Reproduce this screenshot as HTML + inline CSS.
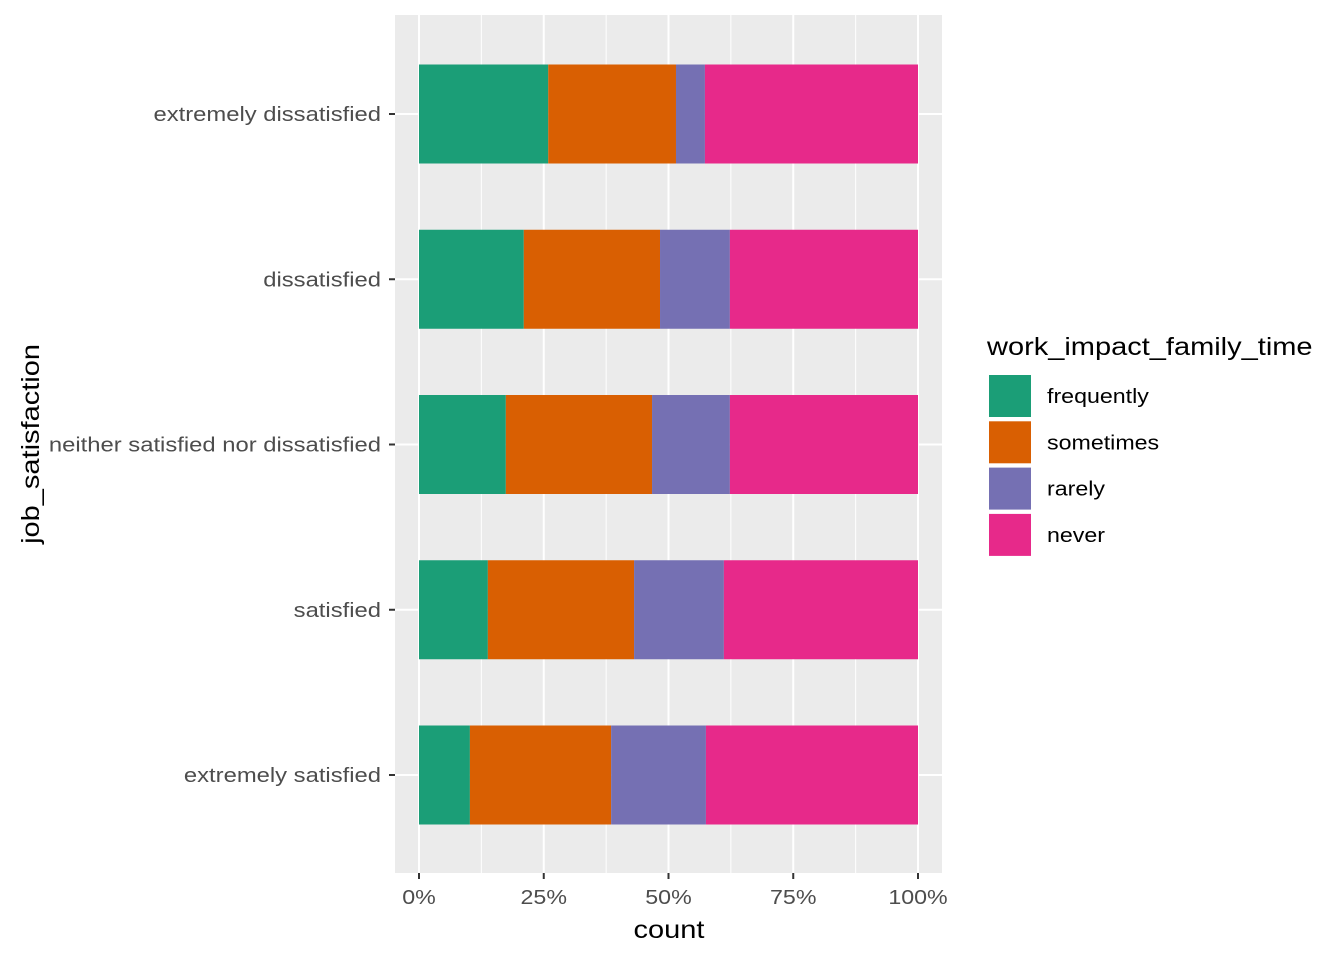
<!DOCTYPE html>
<html><head><meta charset="utf-8"><style>
body{margin:0;background:#fff;}
svg text{font-family:"Liberation Sans",sans-serif;}
</style></head><body>
<svg id="chart" width="1344" height="960" xmlns="http://www.w3.org/2000/svg">
<rect x="395" y="15" width="547" height="858" fill="#ebebeb"/>
<g id="grid"></g><g id="bars"></g><g id="axes"></g><g id="legend"></g>
<text class="w" x="669" y="938" font-size="25" text-anchor="middle" fill="#000">count</text>
<text class="w" transform="translate(39,444) rotate(-90)" font-size="25" text-anchor="middle" fill="#000">job_satisfaction</text>
</svg>
<script>
const categories=["extremely dissatisfied","dissatisfied","neither satisfied nor dissatisfied","satisfied","extremely satisfied"];
const seriesNames=["frequently","sometimes","rarely","never"];
const frequently=[25.9,21.0,17.4,13.8,10.2];
const sometimes=[25.6,27.3,29.3,29.3,28.3];
const rarely=[5.8,14.0,15.6,18.0,19.0];
const never=[42.7,37.7,37.7,38.9,42.5];
const colors=["#1b9e77","#d95f02","#7570b3","#e7298a"];
const xTicks=[0,25,50,75,100];
const xTickLabels=["0%","25%","50%","75%","100%"];
const NS="http://www.w3.org/2000/svg";
const x=v=>419+v/100*499;
const y=i=>114+i*165.25;
function mk(tag,attrs,parent){const e=document.createElementNS(NS,tag);for(const k in attrs)e.setAttribute(k,attrs[k]);document.getElementById(parent).appendChild(e);return e;}
for(let i=0;i<xTicks.length-1;i++){const m=(xTicks[i]+xTicks[i+1])/2;
const g=mk("line",{x1:x(m),x2:x(m),y1:15,y2:873,stroke:"#fff","stroke-width":1},"grid");

}
xTicks.forEach((t,i)=>{const g=mk("line",{x1:x(t),x2:x(t),y1:15,y2:873,stroke:"#fff","stroke-width":2},"grid");


const tk=mk("line",{x1:x(t),x2:x(t),y1:873,y2:879,stroke:"#333","stroke-width":2},"axes");


const tl=mk("text",{x:x(t),y:904,"font-size":20,"text-anchor":"middle",fill:"#4d4d4d",class:"w"},"axes");tl.textContent=xTickLabels[i];

});
const series=[frequently,sometimes,rarely,never];
categories.forEach((c,i)=>{const g=mk("line",{x1:395,x2:942,y1:y(i),y2:y(i),stroke:"#fff","stroke-width":2},"grid");


const tk=mk("line",{x1:389,x2:395,y1:y(i),y2:y(i),stroke:"#333","stroke-width":2},"axes");


const tl=mk("text",{x:381,y:y(i)+7,"font-size":20,"text-anchor":"end",fill:"#4d4d4d",class:"w yl"},"axes");tl.textContent=c;


const tot=series.reduce((s,a)=>s+a[i],0);let acc=0;
series.forEach((s,j)=>{const v=s[i]/tot*100;
const r=mk("rect",{x:x(acc),y:y(i)-49.5,width:x(acc+v)-x(acc),height:99,fill:colors[j]},"bars");


acc+=v;});});
const lt=mk("text",{x:987,y:355,"font-size":25,fill:"#000",class:"w"},"legend");lt.textContent="work_impact_family_time";


seriesNames.forEach((n,j)=>{const r=mk("rect",{x:989,y:375+j*46.3,width:42,height:42,fill:colors[j]},"legend");


const t=mk("text",{x:1047,y:403+j*46.3,"font-size":20,fill:"#000",class:"w"},"legend");t.textContent=n;

});
document.querySelectorAll("text.w").forEach(t=>{const L=t.getComputedTextLength();const k=t.classList.contains("yl")?1.19:1.16;t.setAttribute("textLength",L*k);t.setAttribute("lengthAdjust","spacingAndGlyphs");});
</script>
</body></html>
